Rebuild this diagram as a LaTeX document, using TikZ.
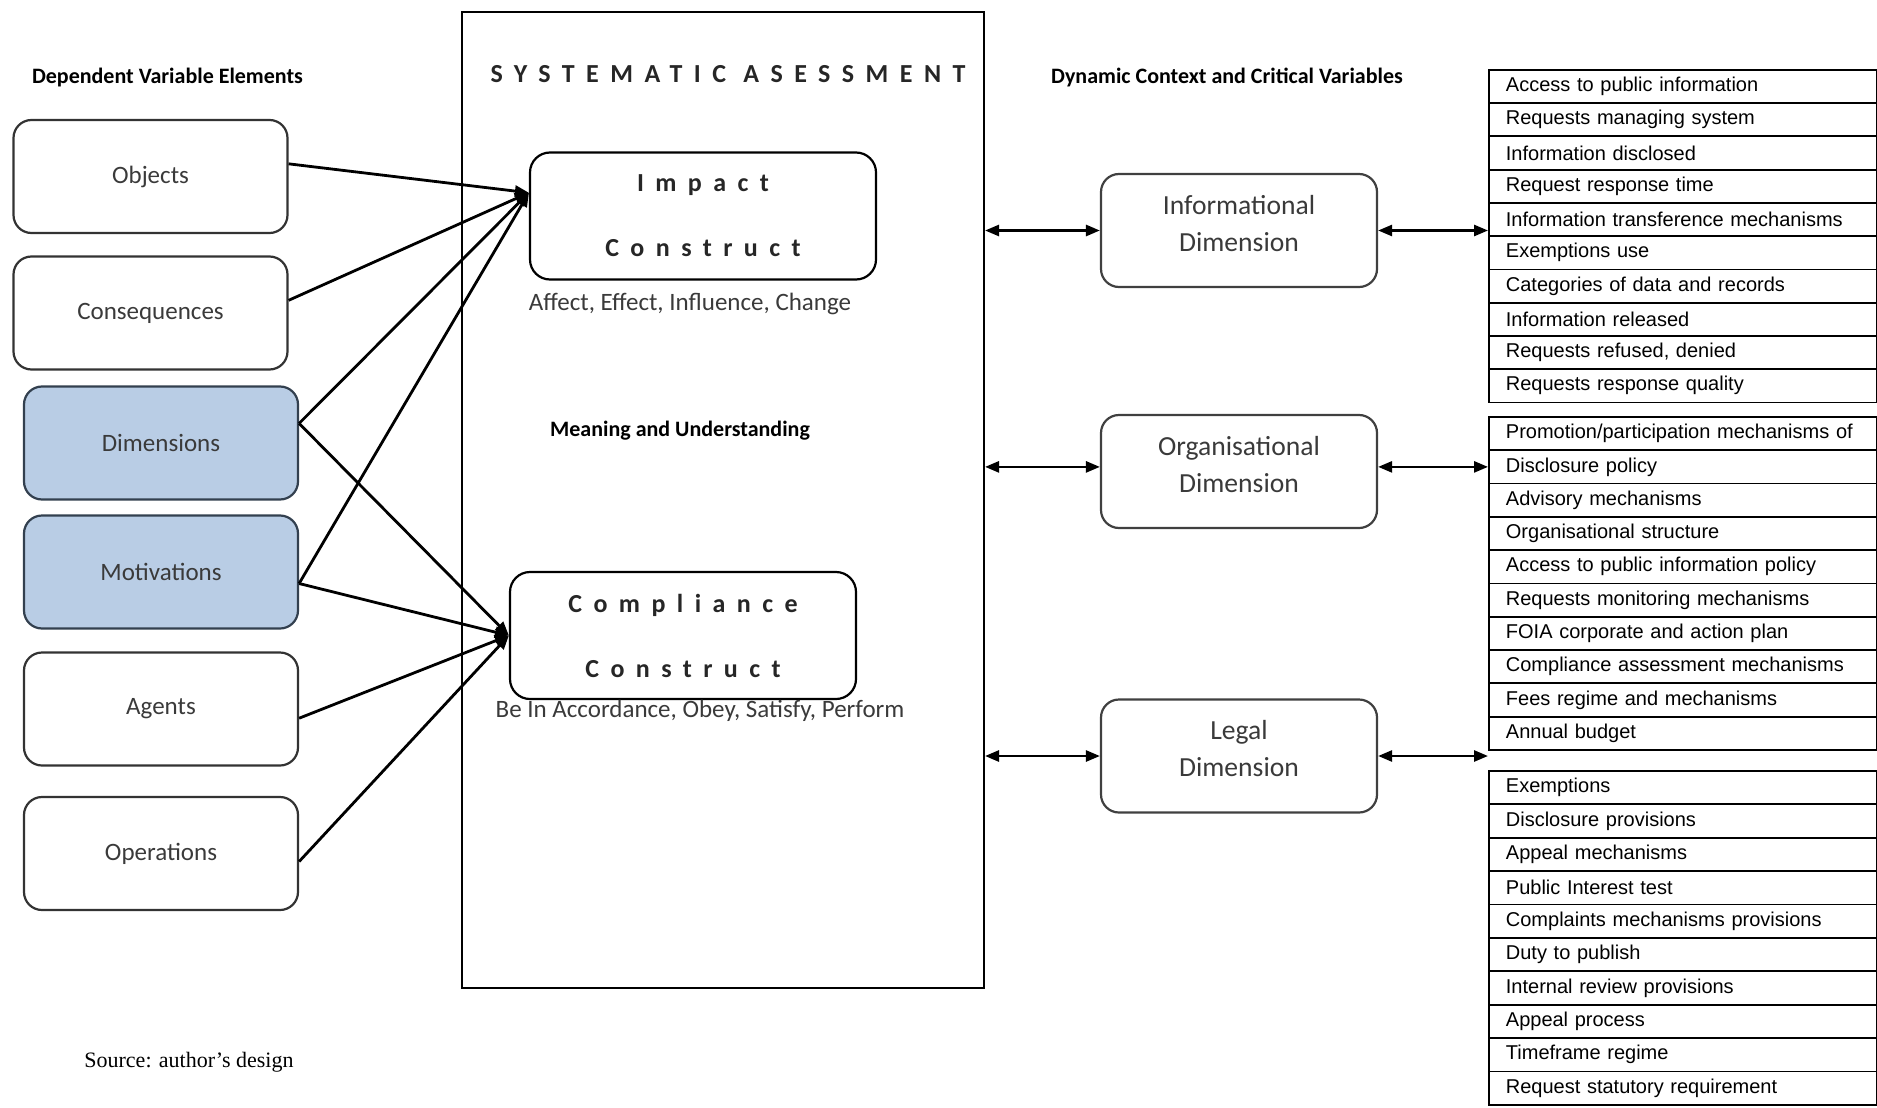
\documentclass[tikz,border=0pt]{standalone}
\usepackage{fontspec}
\setmainfont{Carlito}
\newfontfamily\tabfont{Liberation Sans}
\newfontfamily\srcfont{Liberation Serif}
\newfontfamily\spacedfont[LetterSpace=44]{Carlito}
\usetikzlibrary{arrows.meta,calc}
\definecolor{blueF}{HTML}{B9CDE5}
\definecolor{blueD}{HTML}{33404F}
\definecolor{txtG}{HTML}{3A3A3A}
\begin{document}
\begin{tikzpicture}[x=0.5pt,y=-0.5pt,
  head/.style={font=\bfseries\fontsize{11}{13}\selectfont, inner sep=0},
  lbox/.style={draw=black!80, line width=1.1pt, rounded corners=9pt, minimum width=137pt, minimum height=56.5pt, font=\fontsize{12.5}{15}\selectfont, text=txtG},
  bbox/.style={lbox, fill=blueF, draw=blueD},
  cbox/.style={draw, line width=1.1pt, rounded corners=10pt, minimum width=173pt, minimum height=63.5pt, align=center, inner sep=0, font=\spacedfont\bfseries\fontsize{13}{32.5}\selectfont, text=black!85},
  captext/.style={font=\fontsize{12.5}{15}\selectfont, text=txtG, inner sep=0},
  dbox/.style={draw=black!75, line width=1.1pt, rounded corners=9pt, minimum width=138pt, minimum height=56.5pt},
  dtext/.style={align=center, font=\fontsize{13.8}{18.5}\selectfont, text=txtG, inner sep=0},
  trow/.style={draw, line width=0.9pt, anchor=north west, minimum width=194pt, minimum height=16.65pt, text width=177pt, align=left, inner xsep=8.5pt, inner ysep=0, font=\tabfont\fontsize{10}{12}\selectfont},
  conn/.style={line width=1.4pt, -{Triangle[length=7pt,width=5.5pt]}},
  dbl/.style={line width=1.3pt, {Triangle[length=7pt,width=5.5pt]}-{Triangle[length=7pt,width=5.5pt]}}
]
\useasboundingbox (0,0) rectangle (1877,1107);

% headings
\node[head] (hdep) at (167.5,78) {Dependent Variable Elements};
\node[head] (hmean) at (680,431) {Meaning and Understanding};
\node[head] (hdyn) at (1227,77) {Dynamic Context and Critical Variables};

% main box
\node[draw, line width=1pt, minimum width=261pt, minimum height=488pt, inner sep=0] (mainbox) at (723,500) {};
\node[font=\spacedfont\bfseries\fontsize{13}{15}\selectfont, inner sep=0, text=black!85] (hsys) at (728,74) {SYSTEMATIC ASESSMENT};

% left boxes
\node[lbox] (objects) at (150.5,176.5) {Objects};
\node[lbox] (conseq) at (150.5,313) {Consequences};
\node[bbox] (dims) at (161,443) {Dimensions};
\node[bbox] (motiv) at (161,572) {Motivations};
\node[lbox] (agents) at (161,709) {Agents};
\node[lbox] (oper) at (161,853.5) {Operations};

% constructs
\node[cbox] (impact) at (703,216) {Impact\\Construct};
\node[cbox] (compl) at (683,635.5) {Compliance\\Construct};
\node[captext] (impcap) at (690,304) {Affect, Effect, Influence, Change};
\node[captext] (compcap) at (700,711) {Be In Accordance, Obey, Satisfy, Perform};

% dimension boxes
\node[dbox] (info) at (1239,230.5) {};
\node[dtext] (infotxt) at ([yshift=3.5pt]info.center) {Informational\\Dimension};
\node[dbox] (org) at (1239,471.5) {};
\node[dtext] (orgtxt) at ([yshift=3.5pt]org.center) {Organisational\\Dimension};
\node[dbox] (legal) at (1239,756) {};
\node[dtext] (legaltxt) at ([yshift=3.5pt]legal.center) {Legal\\Dimension};

% tables
\foreach \t [count=\i] in {Access to public information, Requests managing system, Information disclosed, Request response time, Information transference mechanisms, Exemptions use, Categories of data and records, Information released, {Requests refused, denied}, Requests response quality}
  \node[trow] (ta\i) at (1488,{69+(\i-1)*33.25}) {\t};
\foreach \t [count=\i] in {Promotion/participation mechanisms of, Disclosure policy, Advisory mechanisms, Organisational structure, Access to public information policy, Requests monitoring mechanisms, FOIA corporate and action plan, Compliance assessment mechanisms, Fees regime and mechanisms, Annual budget}
  \node[trow] (tb\i) at (1488,{416+(\i-1)*33.3}) {\t};
\foreach \t [count=\i] in {Exemptions, Disclosure provisions, Appeal mechanisms, Public Interest test, Complaints mechanisms provisions, Duty to publish, Internal review provisions, Appeal process, Timeframe regime, Request statutory requirement}
  \node[trow] (tc\i) at (1488,{770+(\i-1)*33.4}) {\t};

% connector points
\coordinate (itip) at ($(impact.north west)!0.32!(impact.south west)$);
\coordinate (ctip) at (compl.west);
\coordinate (sObj) at ($(objects.north east)!0.39!(objects.south east)$);
\coordinate (sCon) at ($(conseq.north east)!0.39!(conseq.south east)$);
\coordinate (sDim) at ($(dims.north east)!0.33!(dims.south east)$);
\coordinate (sMot) at ($(motiv.north east)!0.6!(motiv.south east)$);
\coordinate (sAge) at ($(agents.north east)!0.58!(agents.south east)$);
\coordinate (sOpe) at ($(oper.north east)!0.57!(oper.south east)$);

\draw[conn] (sObj) -- (itip);
\draw[conn] (sCon) -- (itip);
\draw[conn] (sDim) -- (itip);
\draw[conn] (sMot) -- (itip);
\draw[conn] (sDim) -- (ctip);
\draw[conn] (sMot) -- (ctip);
\draw[conn] (sAge) -- (ctip);
\draw[conn] (sOpe) -- (ctip);

% right side arrows
\coordinate (oyl) at ($(org.north west)!0.46!(org.south west)$);
\coordinate (oyr) at ($(org.north east)!0.46!(org.south east)$);
\draw[dbl] (info.west -| mainbox.east) -- (info.west);
\draw[dbl] (info.east) -- (info.east -| ta1.west);
\draw[dbl] (oyl -| mainbox.east) -- (oyl);
\draw[dbl] (oyr) -- (oyr -| tb1.west);
\draw[dbl] (legal.west -| mainbox.east) -- (legal.west);
\draw[dbl] (legal.east) -- (legal.east -| tb1.west);

% source
\node[font=\srcfont\fontsize{11}{13}\selectfont, inner sep=0] (src) at (189,1062) {Source: author’s design};
\end{tikzpicture}
\end{document}
